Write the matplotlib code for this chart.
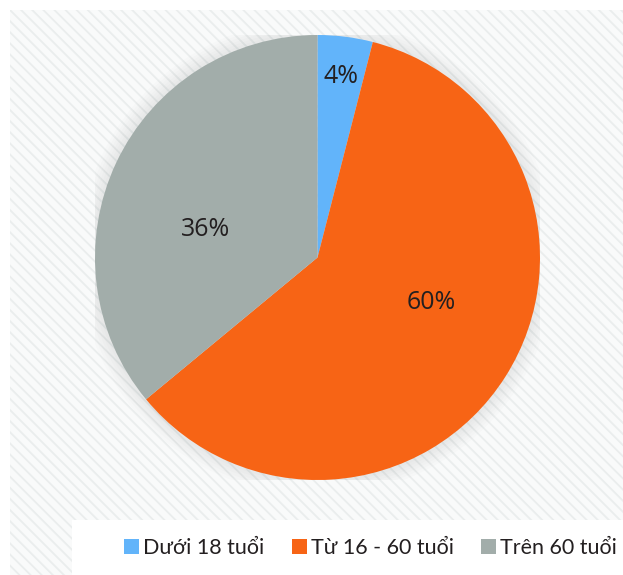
import numpy as np
import matplotlib
matplotlib.use('Agg')
import matplotlib.pyplot as plt
from matplotlib.patches import Rectangle, Circle

plt.rcParams['font.family'] = ['Open Sans', 'DejaVu Sans']
plt.rcParams['hatch.linewidth'] = 1.3

# data
groups = ['Dưới 18 tuổi', 'Từ 16 - 60 tuổi', 'Trên 60 tuổi']
shares = [4, 60, 36]
colors = ['#62b4fa', '#f76415', '#a2adaa']

# where the percent labels sit (radius, angle in degrees)
label_pos = [(0.82, 82.6), (0.55, -21.4), (0.52, 166.1)]

W, H = 623, 575
fig = plt.figure(figsize=(W / 100, H / 100), dpi=100)
fig.patch.set_facecolor('white')

# striped backdrop
bg = fig.add_axes([0, 0, 1, 1])
bg.set_xlim(0, W)
bg.set_ylim(H, 0)
bg.axis('off')
bg.add_patch(Rectangle((10, 10), W - 10, H - 10, facecolor='#f9fafa',
                       edgecolor='#eaeded', hatch='\\\\\\', linewidth=0))
bg.add_patch(Rectangle((72, 520), W - 72, H - 520, facecolor='white',
                       edgecolor='none'))

# pie
ax = fig.add_axes([95 / W, 95 / H, 445 / W, 445 / H])
for k in range(6):
    ax.add_patch(Circle((0, 0), 1.0 + 0.012 * (k + 1), color='#9aa3a3',
                        alpha=0.03, lw=0, zorder=0))
wedges, _ = ax.pie(shares, colors=colors, startangle=90, counterclock=False,
                   radius=1, wedgeprops=dict(linewidth=0))
for (r, a), v in zip(label_pos, shares):
    ax.text(r * np.cos(np.radians(a)), r * np.sin(np.radians(a)), f'{v}%',
            ha='center', va='center', fontsize=18, color='#231f20')
ax.set_xlim(-1, 1)
ax.set_ylim(-1, 1)
ax.set_aspect('auto')
ax.axis('off')

leg = fig.legend(wedges, groups, loc='center left',
                 bbox_to_anchor=(124 / W, 1 - 548 / H), ncol=3,
                 frameon=False, prop=dict(family=['Lato', 'DejaVu Sans'], size=15.5),
                 handlelength=0.7, handleheight=0.7, handletextpad=0.2,
                 columnspacing=1.25, borderpad=0, borderaxespad=0)
for t in leg.get_texts():
    t.set_color('#231f20')

fig.savefig('out.png', dpi=100)
